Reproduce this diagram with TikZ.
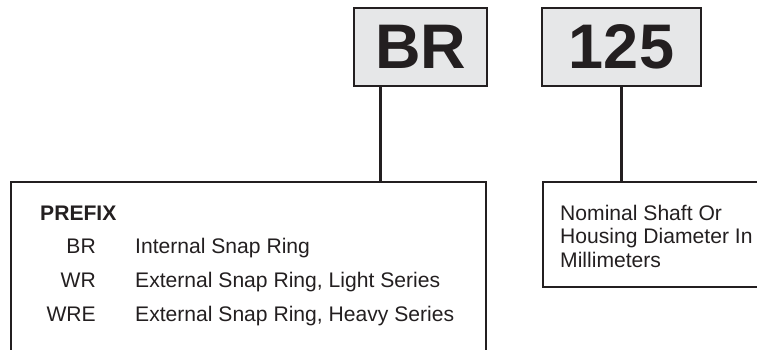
\documentclass[tikz,border=0pt]{standalone}
\usepackage{fontspec}
\setmainfont{Liberation Sans}
\usetikzlibrary{positioning}

\definecolor{inkline}{RGB}{35,31,32}
\definecolor{boxgray}{RGB}{230,231,232}

\tikzset{
  partbox/.style={draw=inkline,line width=2.2pt,fill=boxgray,inner sep=0pt,
    minimum height=78pt,font=\fontsize{63}{63}\selectfont\bfseries,text=inkline},
  framebox/.style={draw=inkline,line width=2.2pt,inner sep=0pt,anchor=north west},
  bodytext/.style={inner sep=0pt,font=\fontsize{21.1}{23.5}\selectfont,text=inkline}
}

\begin{document}
\begin{tikzpicture}[x=1pt,y=-1pt]
  % page size of the reference
  \clip (0,0) rectangle (757,349);

  % the two part number boxes at the top
  \node[partbox,minimum width=133pt] (br) at (420.5,47) {BR};
  \node[partbox,minimum width=159pt] (size) at (621.5,47) {125};

  % the boxes below, both run off the page
  \node[framebox,minimum width=475pt,minimum height=220pt] (prefixbox) at (10,181) {};
  \node[framebox,minimum width=260pt,minimum height=105pt] (sizebox) at (542,181) {};

  % connect part boxes to their frames
  \draw[inkline,line width=2.2pt] ([xshift=-40pt]br.south) -- ([xshift=-40pt]br.south |- prefixbox.north);
  \draw[inkline,line width=2.2pt] (size.south) -- (size.south |- sizebox.north);

  % prefix list
  \node[bodytext,font=\fontsize{21.1}{23.5}\selectfont\bfseries,anchor=base west] (prefix) at (40,220) {PREFIX};
  \foreach \code/\desc [count=\i] in {BR/Internal Snap Ring,
      WR/{External Snap Ring, Light Series},
      WRE/{External Snap Ring, Heavy Series}} {
    \node[bodytext,anchor=base east] (code\i) at (96,220+33.7*\i) {\code};
    \node[bodytext,anchor=base west] (desc\i) at (135,220+33.7*\i) {\desc};
  }

  % size description, one node per line
  \foreach \line [count=\i from 0] in {Nominal Shaft Or, Housing Diameter In, Millimeters}
    \node[bodytext,anchor=base west] (sizeline\i) at (560,220+23.6*\i) {\line};
\end{tikzpicture}
\end{document}
